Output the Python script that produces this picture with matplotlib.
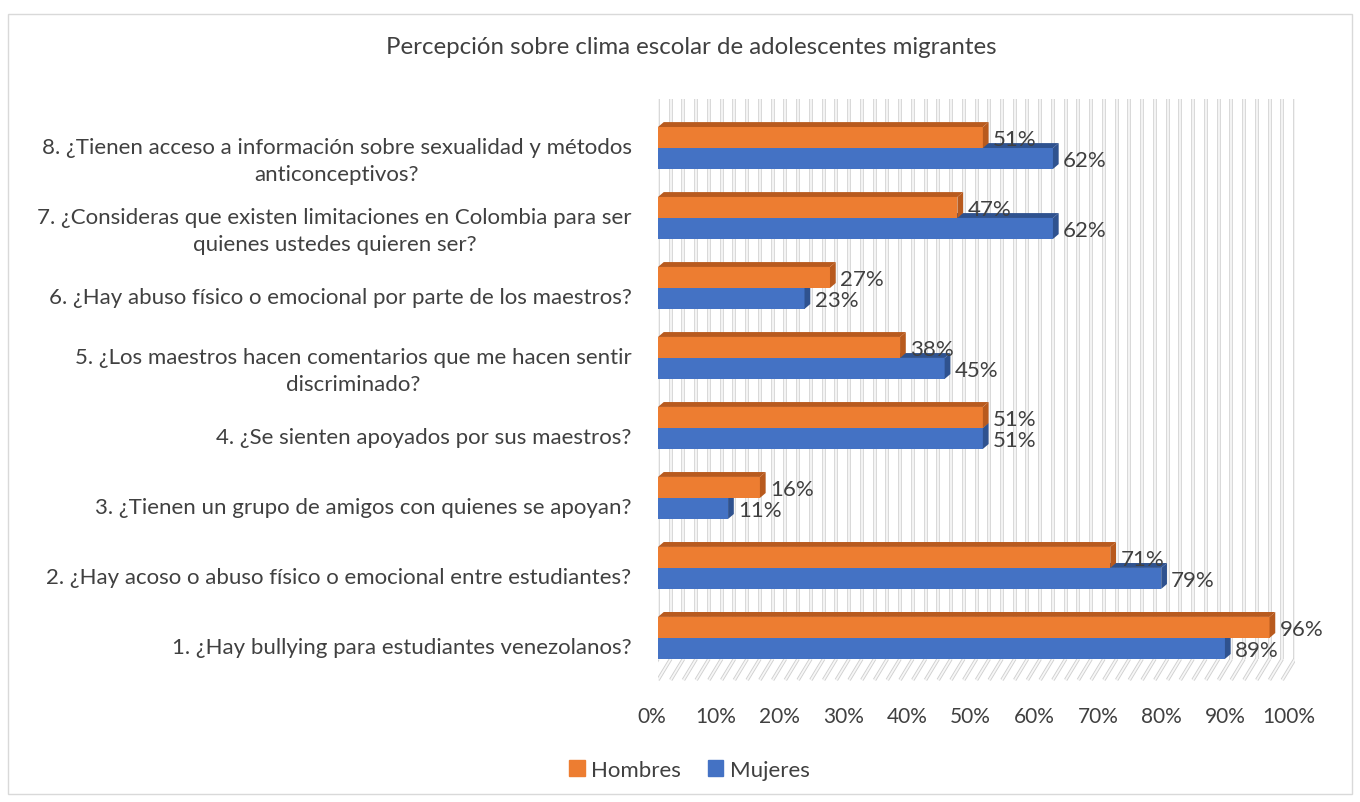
import matplotlib
matplotlib.use('Agg')
import matplotlib.pyplot as plt
from matplotlib.patches import Polygon, Rectangle
from matplotlib.transforms import ScaledTranslation
import numpy as np

plt.rcParams['font.family'] = ['Lato', 'DejaVu Sans']

# Data (bottom to top)
preguntas = [
    '1. ¿Hay bullying para estudiantes venezolanos?',
    '2. ¿Hay acoso o abuso físico o emocional entre estudiantes?',
    '3. ¿Tienen un grupo de amigos con quienes se apoyan?',
    '4. ¿Se sienten apoyados por sus maestros?',
    '5. ¿Los maestros hacen comentarios que me hacen sentir\ndiscriminado?',
    '6. ¿Hay abuso físico o emocional por parte de los maestros?',
    '7. ¿Consideras que existen limitaciones en Colombia para ser\nquienes ustedes quieren ser?',
    '8. ¿Tienen acceso a información sobre sexualidad y métodos\nanticonceptivos?',
]
hombres = [0.96, 0.71, 0.16, 0.51, 0.38, 0.27, 0.47, 0.51]
mujeres = [0.89, 0.79, 0.11, 0.51, 0.45, 0.23, 0.62, 0.62]

ORANGE, ORANGE_DK = '#ED7D31', '#B85A1E'
BLUE, BLUE_DK = '#4472C4', '#2F528F'
TXT = '#404040'

fig = plt.figure(figsize=(13.6, 8.03), dpi=100)
fig.patches.append(Rectangle((8 / 1360, 8 / 803), 1344 / 1360, 780 / 803, transform=fig.transFigure,
                             fill=False, edgecolor='#d9d9d9', linewidth=1))
ax = fig.add_axes([658 / 1360, 1 - 683 / 803, 637 / 1360, 583 / 803])
ax.set_xlim(0, 1)
ax.set_ylim(-0.63, 7.7)

h = 0.3     # bar thickness
dx = 0.009  # 3d depth (x)
dy = 0.07   # 3d depth (y)

# back wall gridlines + floor
for g in np.arange(0, 1.0001, 0.02):
    ax.plot([g, g], [-0.3, 7.7], color='#d0d0d0', lw=2.6, zorder=1, solid_capstyle='butt')
    ax.plot([g, g], [-0.3, 7.7], color='#f7f7f7', lw=1.3, zorder=1.1, solid_capstyle='butt')
    ax.plot([g, g - 0.02], [-0.3, -0.6], color='#d0d0d0', lw=2.6, zorder=1, solid_capstyle='butt')
    ax.plot([g, g - 0.02], [-0.3, -0.6], color='#f7f7f7', lw=1.3, zorder=1.1, solid_capstyle='butt')


def bar3d(y, v, face, dark, z):
    ax.barh(y, v, height=h, color=face, zorder=z)
    top = [(0, y + h / 2), (v, y + h / 2), (v + dx, y + h / 2 + dy), (dx, y + h / 2 + dy)]
    side = [(v, y - h / 2), (v, y + h / 2), (v + dx, y + h / 2 + dy), (v + dx, y - h / 2 + dy)]
    ax.add_patch(Polygon(top, closed=True, color=dark, zorder=z, lw=0))
    ax.add_patch(Polygon(side, closed=True, color=dark, zorder=z, lw=0))


for i in range(len(preguntas)):
    bar3d(i - h / 2, mujeres[i], BLUE, BLUE_DK, 3 + i * 0.01)
    bar3d(i + h / 2, hombres[i], ORANGE, ORANGE_DK, 4 + i * 0.01)
    ax.annotate(f'{round(hombres[i] * 100)}%', (hombres[i], i + h / 2), xytext=(10, -2),
                textcoords='offset pixels', va='center', ha='left', fontsize=16, color=TXT, zorder=6)
    ax.annotate(f'{round(mujeres[i] * 100)}%', (mujeres[i], i - h / 2), xytext=(10, -2),
                textcoords='offset pixels', va='center', ha='left', fontsize=16, color=TXT, zorder=6)

ax.set_yticks(range(len(preguntas)))
ax.set_yticklabels(preguntas, fontsize=16, color=TXT, multialignment='center', linespacing=1.45)
ax.set_xticks(np.arange(0, 1.01, 0.1))
ax.set_xticklabels([f'{int(t * 100)}%' for t in np.arange(0, 1.01, 0.1)], fontsize=15, color=TXT)
ax.tick_params(length=0)
ax.tick_params(axis='y', pad=19)
ax.tick_params(axis='x', pad=17)
for lab in ax.get_yticklabels():
    lab.set_transform(lab.get_transform() + ScaledTranslation(0, -0.07, fig.dpi_scale_trans))
for lab in ax.get_xticklabels():
    lab.set_transform(lab.get_transform() + ScaledTranslation(-0.06, 0, fig.dpi_scale_trans))
for s in ax.spines.values():
    s.set_visible(False)
ax.set_facecolor('none')

fig.text(0.508, 1 - 47 / 803, 'Percepción sobre clima escolar de adolescentes migrantes',
         ha='center', va='center', fontsize=17.3, color=TXT)

leg_h = Rectangle((0, 0), 1, 1, color=ORANGE)
leg_m = Rectangle((0, 0), 1, 1, color=BLUE)
fig.legend([leg_h, leg_m], ['Hombres', 'Mujeres'], loc='center', bbox_to_anchor=(0.507, 1 - 771 / 803),
           ncol=2, frameon=False, fontsize=16, handlelength=0.7, handleheight=0.7,
           handletextpad=0.3, columnspacing=1.2, labelcolor=TXT)

fig.savefig('out.png', dpi=100)
